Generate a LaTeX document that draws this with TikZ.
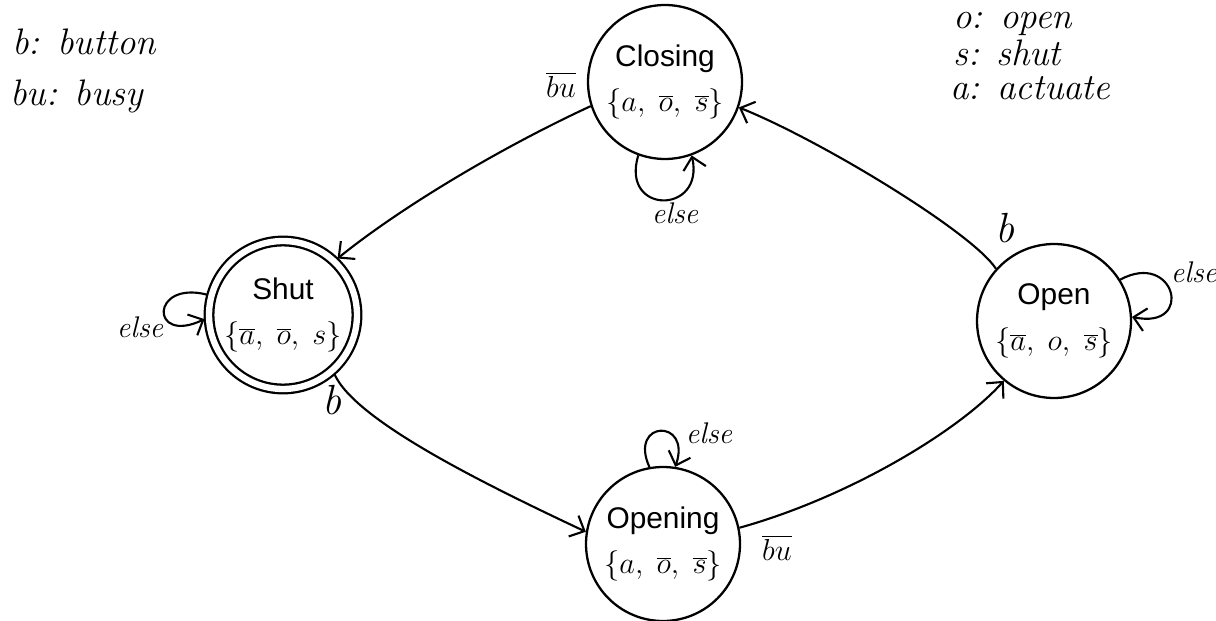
\documentclass[tikz,border=0pt]{standalone}
\usepackage{fontspec}
\newfontfamily\arialf{Liberation Sans}
\usetikzlibrary{arrows.meta}
\begin{document}
\begin{tikzpicture}[x=0.02cm,y=0.02cm,
  state/.style={circle,draw,line width=1.3pt,minimum size=3.08cm,inner sep=0pt,align=center,
    font=\arialf\fontsize{17}{20}\selectfont},
  final/.style={state,double,double distance=3.6pt,minimum size=2.96cm,outer sep=2.6pt},
  edge/.style={line width=1.2pt,-{Straight Barb[length=2.4mm,width=4.6mm]}},
  hand/.style={font=\itshape\fontsize{21}{24}\selectfont,inner sep=0pt},
  elselbl/.style={font=\itshape\fontsize{17}{19}\selectfont,inner sep=0pt},
  blbl/.style={font=\itshape\fontsize{24}{26}\selectfont,inner sep=0pt},
  bulbl/.style={font=\fontsize{17}{20}\selectfont,inner sep=0pt}]
\useasboundingbox (0,0) rectangle (1216,-621);

% legends
\node[hand,anchor=base west] (lb) at (12,-55) {b: button};
\node[hand,anchor=base west] (lbu) at (10,-106) {bu: busy};
\node[hand,anchor=base west] (lo) at (953,-29) {o: open};
\node[hand,anchor=base west] (ls) at (953,-66) {s: shut};
\node[hand,anchor=base west] (la) at (950,-100) {a: actuate};

% states
\node[state] (Closing) at (665,-82) {Closing\\[6pt]$\{a,\ \overline{o},\ \overline{s}\}$};
\node[final] (Shut) at (283,-315) {Shut\\[6pt]$\{\overline{a},\ \overline{o},\ s\}$};
\node[state] (Open) at (1054,-321) {Open\\[6pt]$\{\overline{a},\ o,\ \overline{s}\}$};
\node[state] (Opening) at (663,-544) {Opening\\[6pt]$\{a,\ \overline{o},\ \overline{s}\}$};

% transitions
\draw[edge] (Closing.198) .. controls (500,-148) and (400,-208) .. (Shut.46);
\draw[edge] (Shut.311) .. controls (355,-420) and (480,-482) .. (Opening.171);
\draw[edge] (Opening.12) .. controls (850,-497) and (960,-430) .. (Open.230);
\draw[edge] (Open.138) .. controls (972,-232) and (820,-140) .. (Closing.341);

% self loops
\draw[edge] (Closing.250) .. controls (620,-215) and (705,-215) .. (Closing.290);
\draw[edge] (Shut.165) .. controls (150,-280) and (150,-345) .. (Shut.183);
\draw[edge] (Open.32) .. controls (1175,-250) and (1195,-330) .. (Open.3);
\draw[edge] (Opening.100) .. controls (628,-420) and (692,-418) .. (Opening.81);

% labels
\node[bulbl] (l1) at (561,-85) {$\overline{bu}$};
\node[bulbl] (l2) at (777,-548) {$\overline{bu}$};
\node[blbl] (l3) at (332,-400) {b};
\node[blbl] (l4) at (1005,-228) {b};
\node[elselbl] (e1) at (675,-213) {else};
\node[elselbl] (e2) at (140,-327) {else};
\node[elselbl] (e3) at (1194,-272) {else};
\node[elselbl] (e4) at (709,-433) {else};
\end{tikzpicture}
\end{document}
